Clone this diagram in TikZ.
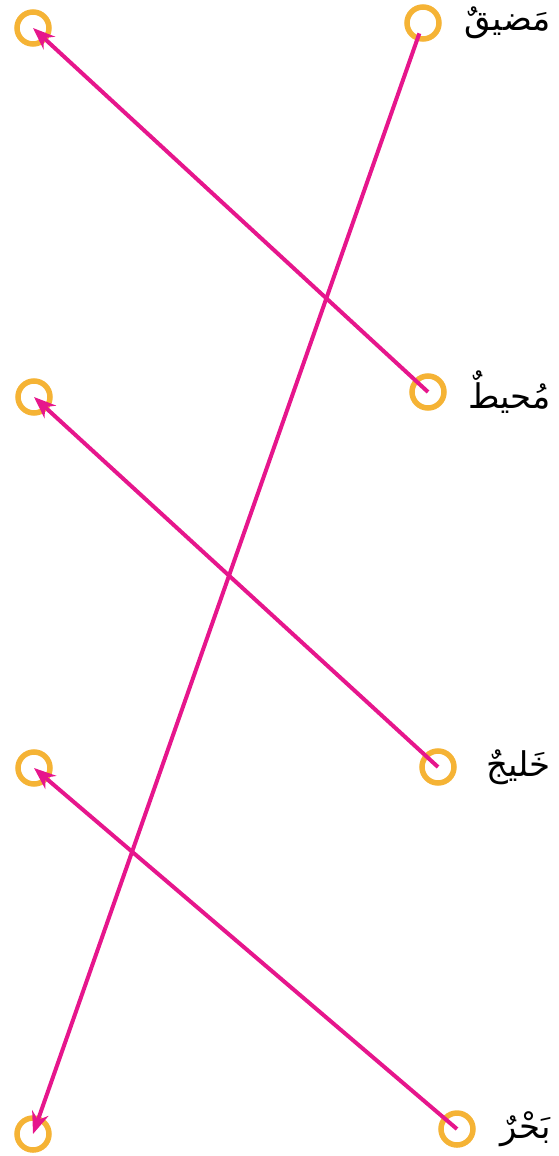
\documentclass[tikz,border=0pt]{standalone}
\usepackage{fontspec}
\newfontfamily\arabicfont[Script=Arabic]{DejaVu Sans}
\TeXXeTstate=1
\usepackage{tikz}
\usetikzlibrary{arrows.meta, positioning}
\definecolor{ringorange}{HTML}{F5B335}
\definecolor{linkpink}{HTML}{E6168C}

\begin{document}
\begin{tikzpicture}[
    x=1pt, y=-1pt,
    ring/.style={circle, draw=ringorange, line width=5.5pt,
                 minimum size=32pt, inner sep=0pt},
    word/.style={anchor=east, inner sep=0pt,
                 font=\arabicfont\fontsize{34}{40}\selectfont},
    link/.style={-{Stealth[length=22pt, width=17pt]}, line width=4pt,
                 color=linkpink}
]
\useasboundingbox (0,0) rectangle (558,1156);

% Left column (targets)
\node[ring] (left1) at (33,28)   {};
\node[ring] (left2) at (34,397)  {};
\node[ring] (left3) at (34,768)  {};
\node[ring] (left4) at (33,1134) {};

% Right column (words)
\node[ring] (right1) at (423,23)   {};
\node[ring] (right2) at (428,392)  {};
\node[ring] (right3) at (438,767)  {};
\node[ring] (right4) at (457,1129) {};

\node[word] (word1) at (551,23)   {\beginR مَضيقٌ\endR};
\node[word] (word2) at (551,392)  {\beginR مُحيطٌ\endR};
\node[word] (word3) at (551,767)  {\beginR خَليجٌ\endR};
\node[word] (word4) at (551,1129) {\beginR بَحْرٌ\endR};

% Matching lines
\draw[link, shorten <=11pt] (right1.center) -- (left4.center);
\draw[link] (right2.center) -- (left1.center);
\draw[link] (right3.center) -- (left2.center);
\draw[link] (right4.center) -- (left3.center);

\end{tikzpicture}
\end{document}
